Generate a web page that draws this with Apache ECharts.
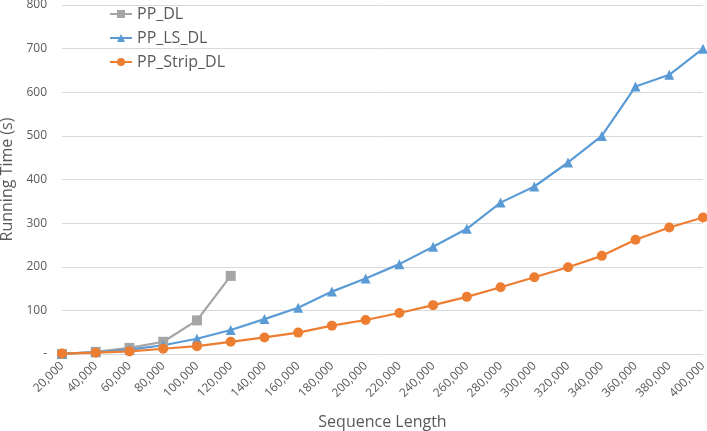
<!DOCTYPE html>
<html><head><meta charset="utf-8">
<script src="https://cdn.jsdelivr.net/npm/echarts@6/dist/echarts.min.js"></script>
<style>html,body{margin:0;padding:0;background:#fff}#c{width:707px;height:431px}</style>
</head><body><div id="c"></div>
<script>
var categories = ['20,000','40,000','60,000','80,000','100,000','120,000','140,000','160,000','180,000','200,000','220,000','240,000','260,000','280,000','300,000','320,000','340,000','360,000','380,000','400,000'];
var ppDL = [0, 5, 14, 28, 77, 179];
var ppLSDL = [1, 4, 10, 20, 35, 55, 80, 106, 143, 173, 206, 246, 287, 347, 384, 439, 500, 613, 640, 700];
var ppStripDL = [1, 3, 6, 12, 18, 28, 38, 49, 65, 78, 94, 112, 131, 153, 176, 199, 225, 262, 290, 313];
var yTicks = [0, 100, 200, 300, 400, 500, 600, 700, 800];

var font = 'Open Sans';
var chart = echarts.init(document.getElementById('c'));
chart.setOption({
  animation: false,
  textStyle: {fontFamily: font},
  grid: {left: 62, right: 4, top: 5, bottom: 77, containLabel: false, outerBoundsMode: 'none'},
  legend: {
    orient: 'vertical', left: 104, top: 1, itemGap: 8, itemWidth: 22, itemHeight: 10,
    textStyle: {fontFamily: font, fontSize: 16, color: '#595959'},
    data: ['PP_DL', 'PP_LS_DL', 'PP_Strip_DL']
  },
  xAxis: {
    type: 'category', data: categories, boundaryGap: false,
    name: 'Sequence Length', nameLocation: 'middle', nameGap: 60,
    nameTextStyle: {fontFamily: font, fontSize: 16, color: '#595959'},
    axisLine: {show: false}, axisTick: {show: false},
    axisLabel: {rotate: 45, fontSize: 12, color: '#595959', interval: 0, margin: 10}
  },
  yAxis: {
    type: 'value', min: 0, max: 800, interval: 100,
    name: 'Running Time (s)', nameLocation: 'middle', nameGap: 46,
    nameTextStyle: {fontFamily: font, fontSize: 16, color: '#595959'},
    axisLine: {show: false}, axisTick: {show: false},
    axisLabel: {fontSize: 12, color: '#595959', margin: 15,
      formatter: function(v){ return yTicks.indexOf(v) === 0 ? '-' : String(v); }},
    splitLine: {lineStyle: {color: '#D9D9D9', width: 1}}
  },
  series: [
    {name: 'PP_DL', type: 'line', data: ppDL, symbol: 'rect', symbolSize: 10,
     itemStyle: {color: '#A5A5A5'}, lineStyle: {color: '#A5A5A5', width: 2.2}},
    {name: 'PP_LS_DL', type: 'line', data: ppLSDL, symbol: 'triangle', symbolSize: 10,
     itemStyle: {color: '#5B9BD5'}, lineStyle: {color: '#5B9BD5', width: 2.2}},
    {name: 'PP_Strip_DL', type: 'line', data: ppStripDL, symbol: 'circle', symbolSize: 10,
     itemStyle: {color: '#ED7D31'}, lineStyle: {color: '#ED7D31', width: 2.2}}
  ]
});
</script></body></html>
